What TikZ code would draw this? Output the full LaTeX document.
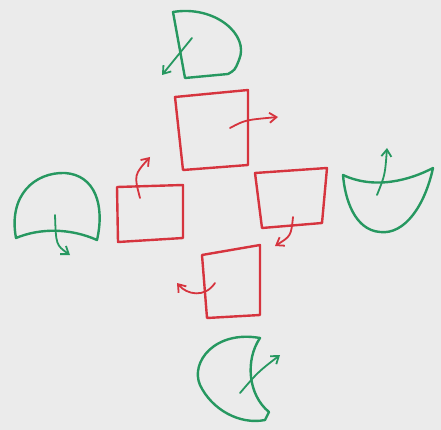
\documentclass[tikz,border=0pt]{standalone}
\usetikzlibrary{arrows.meta}
\definecolor{penred}{RGB}{214,52,62}
\definecolor{pengreen}{RGB}{38,152,96}
\definecolor{paper}{RGB}{235,235,235}

\begin{document}
\begin{tikzpicture}[x=1pt, y=-1pt, line width=2.4pt, line cap=round, line join=round,
        >={Straight Barb[length=7pt, width=10pt]},
        redbox/.style={draw=penred},
        greenpiece/.style={draw=pengreen},
        redarrow/.style={->, draw=penred, line width=1.8pt},
        greenarrow/.style={->, draw=pengreen, line width=1.8pt}]

        \fill[paper] (0,0) rectangle (441,430);
        \useasboundingbox (0,0) rectangle (441,430);

        % red squares
        \draw[redbox] (175,97) -- (248,90) -- (248,165) -- (183,170) -- cycle;
        \draw[redbox] (117,187) -- (183,185) -- (183,238) -- (118,242) -- cycle;
        \draw[redbox] (255,173) -- (327,168) -- (322,223) -- (262,228) -- cycle;
        \draw[redbox] (202,255) -- (260,245) -- (260,315) -- (207,318) -- cycle;

        % red turn arrows
        \draw[redarrow] (230,128) .. controls (245,120) .. (278,117);
        \draw[redarrow] (140,198) .. controls (134,175) .. (150,157);
        \draw[redarrow] (293,217) .. controls (291,236) .. (275,246);
        \draw[redarrow] (215,283) .. controls (205,298) and (187,295) .. (177,283);

        % green pieces
        \draw[greenpiece] (173,12) .. controls (215,5) and (250,35) .. (239,60)
            .. controls (235,70) .. (228,74) -- (185,78) -- cycle;
        \draw[greenpiece] (16,238) .. controls (8,195) and (35,172) .. (65,173)
            .. controls (95,175) and (105,205) .. (97,240)
            .. controls (70,228) and (40,228) .. cycle;
        \draw[greenpiece] (343,175) .. controls (375,190) and (410,180) .. (433,168)
            .. controls (425,205) and (405,235) .. (380,232)
            .. controls (355,230) and (345,200) .. cycle;
        \draw[greenpiece] (260,338) .. controls (215,330) and (190,362) .. (200,385)
            .. controls (212,410) and (240,425) .. (265,420) -- (269,412)
            .. controls (248,395) and (245,360) .. cycle;

        % green turn arrows
        \draw[greenarrow] (192,38) .. controls (178,55) .. (162,75);
        \draw[greenarrow] (55,215) .. controls (56,245) .. (70,255);
        \draw[greenarrow] (377,195) .. controls (385,175) .. (387,148);
        \draw[greenarrow] (240,393) .. controls (258,372) .. (280,355);

\end{tikzpicture}
\end{document}
